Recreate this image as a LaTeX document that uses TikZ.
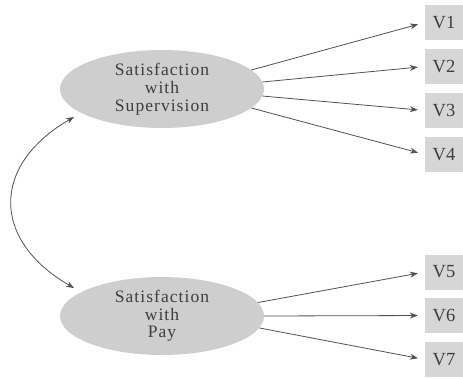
\documentclass[tikz,border=0pt]{standalone}
\usepackage{fontspec}
\setmainfont{Liberation Serif}
\usetikzlibrary{arrows.meta,shapes.geometric}
\definecolor{ellfill}{RGB}{206,206,206}
\definecolor{boxfill}{RGB}{214,214,214}
\definecolor{txt}{RGB}{62,62,62}
\definecolor{ln}{RGB}{80,80,80}
\tikzset{
  latent/.style={ellipse, fill=ellfill, minimum width=204pt, minimum height=78pt, inner sep=0pt,
    text=txt, align=center, font=\addfontfeature{LetterSpace=6}\fontsize{17.5}{17.7}\selectfont},
  obsbox/.style={rectangle, fill=boxfill, minimum width=38pt, minimum height=35pt, inner sep=0pt,
    text=txt, font=\fontsize{18.5}{20}\selectfont},
  loadarrow/.style={draw=ln, line width=0.8pt, -{Stealth[length=8pt,width=6pt]}, shorten >=7pt},
  cov/.style={draw=ln, line width=0.8pt, {Stealth[length=8pt,width=6pt]}-{Stealth[length=8pt,width=6pt]}}
}
\begin{document}
\begin{tikzpicture}[x=1pt,y=-1pt]
\useasboundingbox (0,0) rectangle (463,378);
\node[latent] (sup) at (162,89) {Satisfaction\\with\\Supervision};
\node[latent] (pay) at (162,316) {Satisfaction\\with\\Pay};
\node[obsbox] (v1) at (444,22.5) {V1};
\node[obsbox] (v2) at (444,66.5) {V2};
\node[obsbox] (v3) at (444,110.5) {V3};
\node[obsbox] (v4) at (444,154.5) {V4};
\node[obsbox] (v5) at (444,272) {V5};
\node[obsbox] (v6) at (444,315.5) {V6};
\node[obsbox] (v7) at (444,359.5) {V7};
\draw[loadarrow] (sup.12) -- (v1.west);
\draw[loadarrow] (sup.4) -- (v2.west);
\draw[loadarrow] (sup.-4) -- (v3.west);
\draw[loadarrow] (sup.-12) -- (v4.west);
\draw[loadarrow] (pay.8) -- (v5.west);
\draw[loadarrow] (pay.0) -- (v6.west);
\draw[loadarrow] (pay.-7) -- (v7.west);
\coordinate (ca) at (74,117);
\coordinate (cb) at (74,288);
\draw[cov] (ca) .. controls (-9,165) and (-9,240) .. (cb);
\end{tikzpicture}
\end{document}
